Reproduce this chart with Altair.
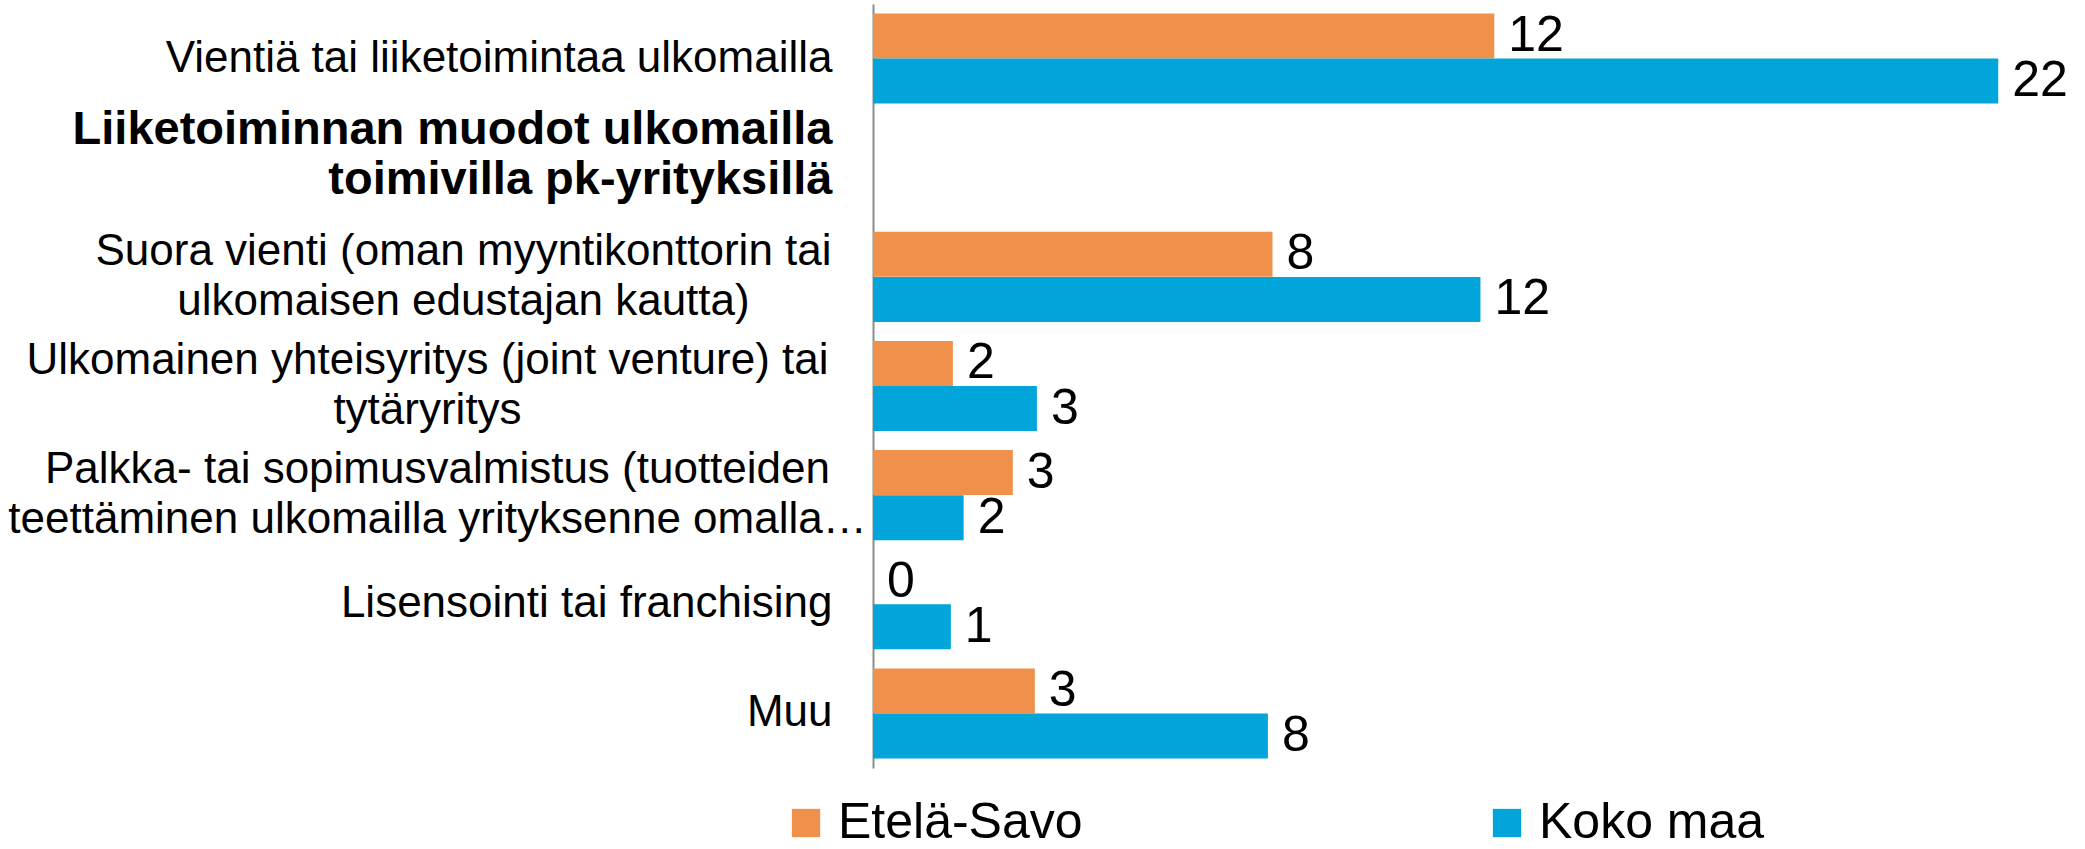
import json
import altair as alt
import pandas as pd

# ---- data ----
categories = [
    "Vientiä tai liiketoimintaa ulkomailla",
    "Liiketoiminnan muodot ulkomailla\ntoimivilla pk-yrityksillä",
    "Suora vienti (oman myyntikonttorin tai\nulkomaisen edustajan kautta)",
    "Ulkomainen yhteisyritys (joint venture) tai\ntytäryritys",
    "Palkka- tai sopimusvalmistus (tuotteiden\nteettäminen ulkomailla yrityksenne omalla…",
    "Lisensointi tai franchising",
    "Muu",
]
heading = categories[1]
bar_categories = [c for c in categories if c != heading]

series = ["Etelä-Savo", "Koko maa"]
colors = ["#F0914B", "#02A5DA"]

etela_savo_values = [12.13, 7.8, 1.56, 2.73, 0.0, 3.16]
etela_savo_labels = ["12", "8", "2", "3", "0", "3"]
koko_maa_values = [21.97, 11.86, 3.2, 1.77, 1.52, 7.71]
koko_maa_labels = ["22", "12", "3", "2", "1", "8"]

rows = []
for cat, v, lab in zip(bar_categories, etela_savo_values, etela_savo_labels):
    rows.append({"cat": cat, "series": series[0], "value": v, "label": lab})
for cat, v, lab in zip(bar_categories, koko_maa_values, koko_maa_labels):
    rows.append({"cat": cat, "series": series[1], "value": v, "label": lab})
df = pd.DataFrame(rows)

FONT = "Liberation Sans"


def is_cat(c):
    return "datum.value == " + json.dumps(c)


is_heading = is_cat(heading)
is_multi = "indexof(datum.value, '\\n') >= 0"

# centred multi-line label blocks (padding from the axis to the block centre)
centred_padding = {categories[2]: 410, categories[3]: 446, categories[4]: 436}

pad_conditions = [{"test": is_cat(c), "value": p} for c, p in centred_padding.items()]

y_axis = alt.Axis(
    title=None,
    ticks=False,
    domain=True,
    domainColor="#8C8C8C",
    domainWidth=2,
    labelFont=FONT,
    labelFontSize={"condition": {"test": is_heading, "value": 47}, "value": 44},
    labelFontWeight={"condition": {"test": is_heading, "value": "bold"}, "value": "normal"},
    labelOffset={
        "condition": [
            {"test": is_heading, "value": -38},
            {"test": is_multi, "value": -25},
        ],
        "value": 0,
    },
    labelAlign={
        "condition": [
            {"test": is_heading, "value": "right"},
            {"test": is_multi, "value": "center"},
        ],
        "value": "right",
    },
    labelPadding={"condition": pad_conditions, "value": 41},
    labelColor="#000000",
    labelLimit=2000,
    labelLineHeight=50,
    labelExpr="split(datum.label, '\\n')",
)

y_scale = alt.Scale(domain=categories, paddingInner=0.174, paddingOuter=0.087)
y_enc = alt.Y("cat:N", sort=categories, scale=y_scale, axis=y_axis)
yoff_enc = alt.YOffset("series:N", sort=series, scale=alt.Scale(domain=series))
x_enc = alt.X("value:Q", scale=alt.Scale(domain=[0, 23], nice=False), axis=None)

bars = alt.Chart(df).mark_bar(size=45).encode(
    x=x_enc,
    y=y_enc,
    yOffset=yoff_enc,
    color=alt.Color(
        "series:N",
        scale=alt.Scale(domain=series, range=colors),
        legend=alt.Legend(
            title=None,
            orient="none",
            direction="horizontal",
            legendX=-92,
            legendY=794,
            symbolType="square",
            symbolSize=800,
            symbolStrokeWidth=0,
            labelFont=FONT,
            labelFontSize=50,
            labelColor="#000000",
            labelOffset=7,
            columnPadding=399,
            padding=0,
            labelLimit=1000,
        ),
    ),
)

texts = alt.Chart(df).mark_text(
    align="left", baseline="middle", dx=14, font=FONT, fontSize=50, color="#000000"
).encode(
    x=x_enc,
    y=alt.Y("cat:N", sort=categories, scale=y_scale),
    yOffset=yoff_enc,
    text="label:N",
)

chart = (
    alt.layer(bars, texts)
    .properties(
        width=1178,
        height=764,
        autosize=alt.AutoSizeParams(type="none"),
        padding={"left": 873, "top": 4, "right": 34, "bottom": 81},
        background="white",
    )
    .configure_view(stroke=None)
)

chart.save("out.html", embed_options={"renderer": "svg", "actions": False})
